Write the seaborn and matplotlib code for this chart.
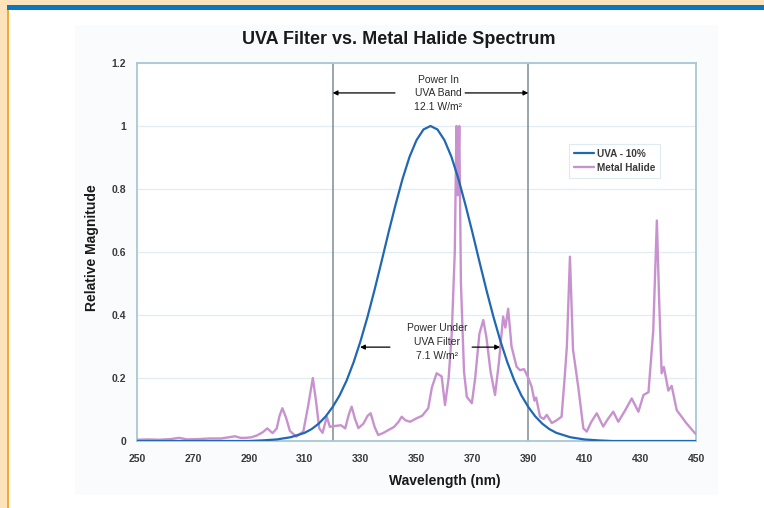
import matplotlib
matplotlib.use("Agg")
import matplotlib.pyplot as plt
from matplotlib.patches import Rectangle
import seaborn as sns
import pandas as pd

# ---------------- data ----------------
uva_wavelength = [250, 270, 280, 290, 295, 300, 305, 310, 312.5, 315, 317.5, 320, 322.5,
                  325, 327.5, 330, 332.5, 335, 337.5, 340, 342.5, 345, 347.5, 350, 352.5,
                  355, 357.5, 360, 362.5, 365, 367.5, 370, 372.5, 375, 377.5, 380, 382.5,
                  385, 387.5, 390, 392.5, 395, 397.5, 400, 405, 410, 415, 420, 430, 450]
uva_value = [0.0, 0.0, 0.0, 0.0, 0.002, 0.005, 0.012, 0.026, 0.038, 0.055, 0.078, 0.108,
             0.145, 0.192, 0.250, 0.318, 0.395, 0.480, 0.570, 0.662, 0.750, 0.832, 0.902,
             0.955, 0.989, 1.0, 0.989, 0.955, 0.902, 0.832, 0.750, 0.662, 0.570, 0.480,
             0.395, 0.318, 0.250, 0.192, 0.145, 0.108, 0.078, 0.055, 0.038, 0.026, 0.012,
             0.005, 0.002, 0.0, 0.0, 0.0]

mh_wavelength = [250, 254, 258, 262, 265, 268, 272, 276, 280, 283, 285, 287, 289, 291, 293,
                 295, 296.6, 298.5, 300, 301, 302, 303.3, 304.7, 307, 309.5, 311.2, 312.9,
                 314, 315.2, 316.4, 317.9, 319, 321, 323, 324.5, 325.8, 326.8, 328, 329.2,
                 331, 332.5, 333.6, 335, 336.3, 338, 340, 342, 343.5, 344.7, 346, 347.7,
                 350, 352, 354.2, 355.5, 357.2, 359, 360.2, 361.5, 362.6, 363.7, 364.3,
                 364.8, 365.3, 365.9, 367, 368, 369.8, 371, 372.5, 373.9, 375, 376.5,
                 378.1, 379.5, 381, 381.8, 382.8, 384, 385.8, 387, 388.5, 390, 391.2,
                 392.2, 392.8, 394.2, 395.5, 396.6, 398.4, 400, 401.9, 403, 403.8, 404.9,
                 406, 407.9, 409.7, 410.9, 412.5, 414.5, 416.8, 418.5, 420.4, 422.2, 424.5,
                 427, 429.4, 431.2, 433, 434.7, 436.0, 436.8, 437.7, 438.5, 440.1, 441.3,
                 443.1, 446.6, 449.6, 450]
mh_value = [0.004, 0.005, 0.004, 0.006, 0.010, 0.005, 0.006, 0.008, 0.008, 0.012, 0.015,
            0.010, 0.010, 0.012, 0.018, 0.028, 0.040, 0.025, 0.040, 0.080, 0.104, 0.075,
            0.032, 0.014, 0.030, 0.110, 0.200, 0.130, 0.040, 0.026, 0.077, 0.045, 0.048,
            0.050, 0.040, 0.085, 0.109, 0.070, 0.041, 0.055, 0.080, 0.088, 0.045, 0.019,
            0.025, 0.035, 0.045, 0.060, 0.077, 0.066, 0.061, 0.072, 0.080, 0.104, 0.170,
            0.215, 0.205, 0.114, 0.200, 0.340, 0.600, 1.000, 0.780, 1.000, 0.500, 0.220,
            0.140, 0.120, 0.200, 0.340, 0.384, 0.330, 0.220, 0.146, 0.250, 0.395, 0.360,
            0.420, 0.300, 0.236, 0.225, 0.228, 0.200, 0.172, 0.128, 0.138, 0.077, 0.070,
            0.083, 0.057, 0.065, 0.077, 0.200, 0.300, 0.585, 0.290, 0.170, 0.040, 0.030,
            0.060, 0.088, 0.046, 0.070, 0.093, 0.061, 0.095, 0.135, 0.093, 0.146, 0.155,
            0.350, 0.700, 0.450, 0.215, 0.235, 0.160, 0.175, 0.098, 0.056, 0.025, 0.022]

x_ticks = [250, 270, 290, 310, 330, 350, 370, 390, 410, 430, 450]
y_ticks = [0, 0.2, 0.4, 0.6, 0.8, 1, 1.2]
y_tick_labels = ["0", "0.2", "0.4", "0.6", "0.8", "1", "1.2"]
band_edges = [320, 390]

series_names = ["UVA - 10%", "Metal Halide"]
title = "UVA Filter vs. Metal Halide Spectrum"
x_label = "Wavelength (nm)"
y_label = "Relative Magnitude"
band_text = "Power In\nUVA Band\n12.1 W/m²"
filter_text = "Power Under\nUVA Filter\n7.1 W/m²"

# ---------------- styling ----------------
sns.set_theme(style="white")
plt.rcParams["font.family"] = ["Liberation Sans", "DejaVu Sans"]

W, H = 764, 508
fig = plt.figure(figsize=(W / 100, H / 100), dpi=100, facecolor="#FDE3BC")

def px_rect(x0, y0, x1, y1, color, z=-10):
    # pixel coordinates from top-left
    fig.patches.append(Rectangle((x0 / W, 1 - y1 / H), (x1 - x0) / W, (y1 - y0) / H,
                                 transform=fig.transFigure, facecolor=color,
                                 edgecolor="none", zorder=z))

px_rect(9, 10, W, H, "white", -10)
px_rect(7, 5, W, 10, "#0A78C0", -9)
px_rect(7, 10, 9, H, "#F6A833", -9)
px_rect(75, 25, 718, 495, "#FAFBFC", -8)

ax = fig.add_axes([137 / W, 1 - 441 / H, (696 - 137) / W, (441 - 63) / H])
ax.set_zorder(1)
ax.set_facecolor("white")

uva_df = pd.DataFrame({"Wavelength": uva_wavelength, "Value": uva_value})
mh_df = pd.DataFrame({"Wavelength": mh_wavelength, "Value": mh_value})

sns.lineplot(data=mh_df, x="Wavelength", y="Value", ax=ax, color="#C892CF",
             linewidth=1.7, label=series_names[1], zorder=3)
sns.lineplot(data=uva_df, x="Wavelength", y="Value", ax=ax, color="#2168B2",
             linewidth=1.6, label=series_names[0], zorder=4)

ax.set_xlim(250, 450)
ax.set_ylim(0, 1.2)
ax.set_xticks(x_ticks)
ax.set_xticklabels([str(t) for t in x_ticks])
ax.set_yticks(y_ticks)
ax.set_yticklabels(y_tick_labels)
ax.tick_params(axis="both", length=0, labelsize=7.5, labelcolor="#3a3a3a")
ax.tick_params(axis="x", pad=9)
ax.tick_params(axis="y", pad=8)
for lab in ax.get_xticklabels() + ax.get_yticklabels():
    lab.set_fontweight("bold")
ax.set_xlabel("")
ax.set_ylabel("")
ax.yaxis.grid(True, color="#E2EDF3", linewidth=0.9)
ax.set_axisbelow(True)
for sp in ax.spines.values():
    sp.set_color("#A9C7D5")
    sp.set_linewidth(1.3)

for edge in band_edges:
    ax.axvline(edge, color="#7E8C92", linewidth=1.1, zorder=2)

arrow_kw = dict(arrowstyle="-|>", color="black", lw=0.9, mutation_scale=7,
                shrinkA=0, shrinkB=0)
ax.text(357.7, 1.104, band_text, ha="center", va="center", fontsize=7.5,
        color="#2a2a2a", linespacing=1.45)
ax.annotate("", xy=(320, 1.105), xytext=(342.3, 1.105), arrowprops=arrow_kw)
ax.annotate("", xy=(390, 1.105), xytext=(367.4, 1.105), arrowprops=arrow_kw)

ax.text(357.3, 0.314, filter_text, ha="center", va="center", fontsize=7.5,
        color="#2a2a2a", linespacing=1.45, zorder=6)
ax.annotate("", xy=(329.8, 0.298), xytext=(340.5, 0.298), arrowprops=arrow_kw, zorder=6)
ax.annotate("", xy=(379.9, 0.298), xytext=(369.9, 0.298), arrowprops=arrow_kw, zorder=6)

handles, labels = ax.get_legend_handles_labels()
order = [labels.index(series_names[0]), labels.index(series_names[1])]
leg = ax.legend([handles[i] for i in order], [labels[i] for i in order],
                loc="upper left", bbox_to_anchor=(0.763, 0.80), fontsize=7.2,
                frameon=True, fancybox=False, handlelength=2.0, handletextpad=0.3,
                borderpad=0.5, labelspacing=0.4)
leg.get_frame().set_edgecolor("#D6E6EE")
leg.get_frame().set_linewidth(0.8)
for t in leg.get_texts():
    t.set_fontweight("bold")
    t.set_color("#3a3a3a")

fig.text(399 / W, 1 - 40 / H, title, ha="center", va="center", fontsize=13,
         fontweight="bold", color="#1a1a1a")
fig.text(444.6 / W, 1 - 481 / H, x_label, ha="center", va="center", fontsize=10,
         fontweight="bold", color="#1a1a1a")
fig.text(92 / W, 1 - 248 / H, y_label, ha="center", va="center", fontsize=10,
         fontweight="bold", color="#1a1a1a", rotation=90)

fig.savefig("out.png", dpi=100, facecolor=fig.get_facecolor())
